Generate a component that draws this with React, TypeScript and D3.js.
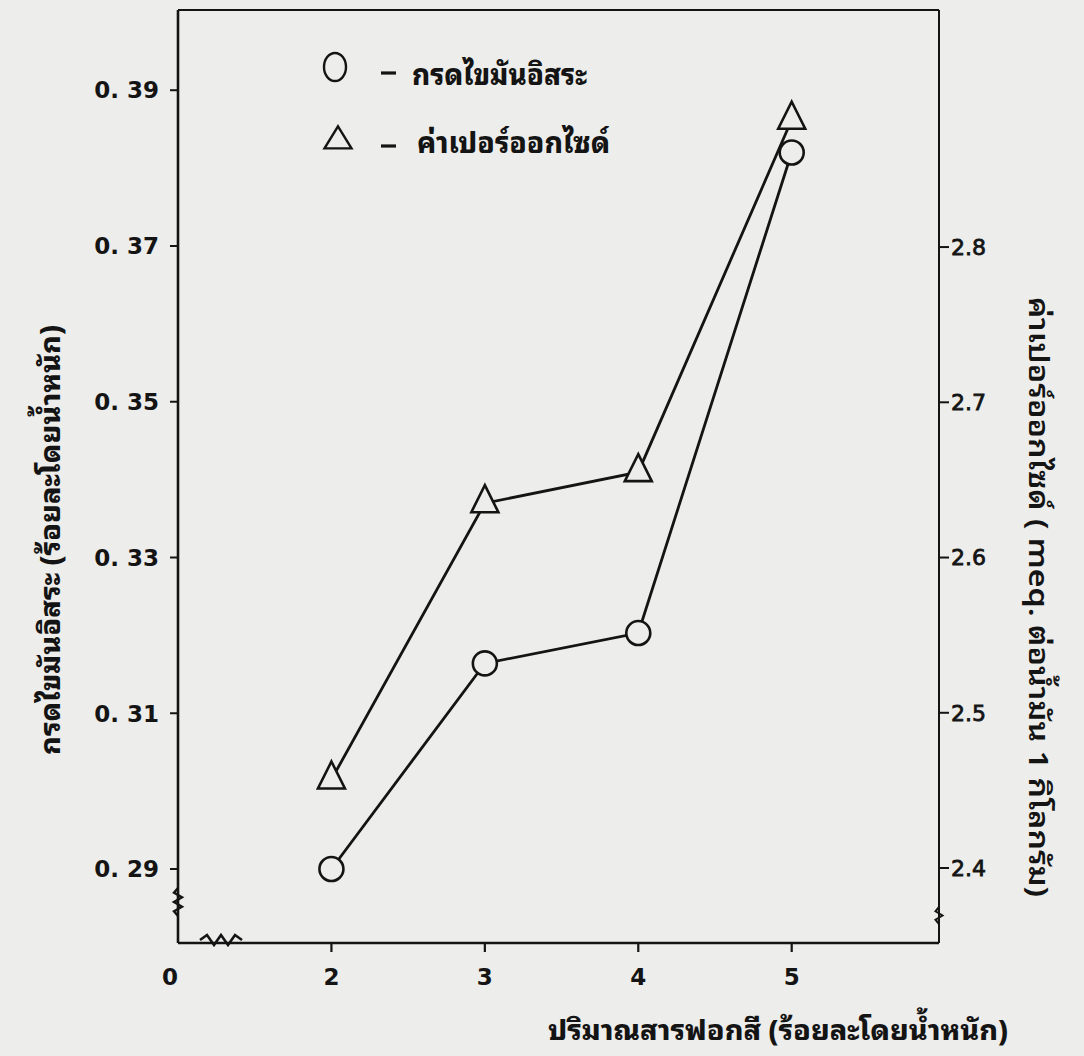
import React from 'react';
import * as d3 from 'd3';

// Bleaching-earth dosage (% by weight) and the two measured responses
const bleachLevels = [2, 3, 4, 5];
const freeFattyAcid = [0.29, 0.3164, 0.3203, 0.382];
const peroxideValue = [2.457, 2.635, 2.655, 2.882];

const leftTicks = [0.29, 0.31, 0.33, 0.35, 0.37, 0.39];
const rightTicks = [2.4, 2.5, 2.6, 2.7, 2.8];
const xTicks = [2, 3, 4, 5];
const xOriginLabel = '0';

const legendLabels = ['กรดไขมันอิสระ', 'ค่าเปอร์ออกไซด์'];
const leftTitle = 'กรดไขมันอิสระ (ร้อยละโดยน้ำหนัก)';
const rightTitle = 'ค่าเปอร์ออกไซด์ ( meq. ต่อน้ำมัน 1 กิโลกรัม)';
const xTitle = 'ปริมาณสารฟอกสี (ร้อยละโดยน้ำหนัก)';

const W = 1084;
const H = 1056;
const plot = { left: 178, right: 939, top: 10, bottom: 943 };
const paper = '#ededeb';
const ink = '#141414';
const thaiFont = '"Noto Sans Thai Looped", "Noto Sans Thai", "Noto Sans", "DejaVu Sans", sans-serif';
const numFont = '"DejaVu Sans", "Noto Sans", sans-serif';

const x = d3.scaleLinear().domain([1.0, 5.96]).range([plot.left, plot.right]);
const yL = d3.scaleLinear().domain([0.2805, 0.4003]).range([plot.bottom, plot.top]);
const yR = d3.scaleLinear().domain([2.3517, 2.9527]).range([plot.bottom, plot.top]);

const ffaPts: [number, number][] = bleachLevels.map((b, i) => [x(b), yL(freeFattyAcid[i])]);
const pvPts: [number, number][] = bleachLevels.map((b, i) => [x(b), yR(peroxideValue[i])]);
const line = d3.line();

// Open triangle marker with its centroid at the origin
function trianglePath(w: number, h: number) {
  const p = d3.path();
  p.moveTo(0, (-2 * h) / 3);
  p.lineTo(w / 2, h / 3);
  p.lineTo(-w / 2, h / 3);
  p.closePath();
  return p.toString();
}

// Small zig-zag drawn across an axis line to mark a break in the scale
function zigzag(x0: number, y0: number, len: number, amp: number, n: number, vertical: boolean) {
  const pts: [number, number][] = [];
  const steps = n * 2;
  for (let i = 0; i <= steps; i++) {
    const t = (i / steps) * len;
    const o = i === 0 || i === steps ? 0 : i % 2 ? -amp : amp;
    pts.push(vertical ? [x0 + o, y0 + t] : [x0 + t, y0 + o]);
  }
  return d3.line()(pts) || '';
}

export default function App() {
  const fmtLeft = (v: number) => v.toFixed(2).replace('.', '. ');
  return (
    <svg
      width={W}
      height={H}
      viewBox={`0 0 ${W} ${H}`}
      style={{ position: 'absolute', left: 0, top: 0, background: paper }}
    >
      <rect x={0} y={0} width={W} height={H} fill={paper} />

      {/* frame: top border, left and right axes, bottom axis */}
      <line x1={plot.left} x2={plot.right} y1={plot.top} y2={plot.top} stroke={ink} strokeWidth={2.2} />
      <line x1={plot.left} x2={plot.left} y1={plot.top} y2={plot.bottom} stroke={ink} strokeWidth={2.6} />
      <line x1={plot.right} x2={plot.right} y1={plot.top} y2={plot.bottom} stroke={ink} strokeWidth={2} />
      <line x1={plot.left} x2={plot.right} y1={plot.bottom} y2={plot.bottom} stroke={ink} strokeWidth={2.6} />

      {/* axis breaks */}
      <path d={zigzag(plot.left, 888, 28, 4, 3, true)} fill="none" stroke={ink} strokeWidth={2.4} />
      <path d={zigzag(plot.right, 907, 17, 3.5, 2, true)} fill="none" stroke={ink} strokeWidth={2} />
      <path d={zigzag(200, plot.bottom - 3, 42, 5, 3, false)} fill="none" stroke={ink} strokeWidth={2.6} />

      {/* left axis */}
      {leftTicks.map((t) => (
        <g key={t} transform={`translate(${plot.left},${yL(t)})`}>
          <line x1={-8} x2={0} stroke={ink} strokeWidth={2} />
          <text x={-19} dy="0.36em" textAnchor="end" fontFamily={numFont} fontWeight={700} fontSize={23} fill={ink}>
            {fmtLeft(t)}
          </text>
        </g>
      ))}

      {/* right axis */}
      {rightTicks.map((t) => (
        <g key={t} transform={`translate(${plot.right},${yR(t)})`}>
          <line x1={0} x2={10} stroke={ink} strokeWidth={2} />
          <text
            x={12}
            dy="0.36em"
            textAnchor="start"
            fontFamily={numFont}
            fontWeight={400}
            fontSize={22}
            fill={ink}
            stroke={ink}
            strokeWidth={0.8}
          >
            {t.toFixed(1)}
          </text>
        </g>
      ))}

      {/* bottom axis */}
      {xTicks.map((t) => (
        <g key={t} transform={`translate(${x(t)},${plot.bottom})`}>
          <line y1={0} y2={9} stroke={ink} strokeWidth={2.2} />
          <text y={34} dy="0.36em" textAnchor="middle" fontFamily={numFont} fontWeight={700} fontSize={23} fill={ink}>
            {t}
          </text>
        </g>
      ))}
      <text x={plot.left - 8} y={plot.bottom + 34} dy="0.36em" textAnchor="middle" fontFamily={numFont} fontWeight={700} fontSize={23} fill={ink}>
        {xOriginLabel}
      </text>

      {/* axis titles */}
      <text
        transform="translate(47,540) rotate(-90)"
        textAnchor="middle"
        dominantBaseline="central"
        fontFamily={thaiFont}
        fontWeight={800}
        fontSize={28}
        textLength={430}
        lengthAdjust="spacingAndGlyphs"
        fill={ink}
      >
        {leftTitle}
      </text>
      <text
        transform="translate(1041,597) rotate(90)"
        textAnchor="middle"
        dominantBaseline="central"
        fontFamily={thaiFont}
        fontWeight={600}
        fontSize={27}
        textLength={600}
        lengthAdjust="spacingAndGlyphs"
        fill={ink}
      >
        {rightTitle}
      </text>
      <text
        x={548}
        y={1027}
        textAnchor="start"
        dominantBaseline="central"
        fontFamily={thaiFont}
        fontWeight={800}
        fontSize={28}
        textLength={460}
        lengthAdjust="spacingAndGlyphs"
        fill={ink}
      >
        {xTitle}
      </text>

      {/* legend */}
      <ellipse cx={335} cy={67} rx={11} ry={14} fill="none" stroke={ink} strokeWidth={2.4} />
      <line x1={381} x2={396} y1={73} y2={73} stroke={ink} strokeWidth={3.2} />
      <text
        x={412}
        y={72}
        dominantBaseline="central"
        fontFamily={thaiFont}
        fontWeight={800}
        fontSize={29}
        textLength={175}
        lengthAdjust="spacingAndGlyphs"
        fill={ink}
      >
        {legendLabels[0]}
      </text>
      <path d={trianglePath(27, 22)} transform="translate(338,141)" fill="none" stroke={ink} strokeWidth={2.4} />
      <line x1={381} x2={396} y1={146} y2={146} stroke={ink} strokeWidth={3.2} />
      <text
        x={417}
        y={140}
        dominantBaseline="central"
        fontFamily={thaiFont}
        fontWeight={800}
        fontSize={29}
        textLength={193}
        lengthAdjust="spacingAndGlyphs"
        fill={ink}
      >
        {legendLabels[1]}
      </text>

      {/* series lines */}
      <path d={line(pvPts) || ''} fill="none" stroke={ink} strokeWidth={2.8} />
      <path d={line(ffaPts) || ''} fill="none" stroke={ink} strokeWidth={2.8} />

      {/* markers */}
      {pvPts.map(([px, py], i) => (
        <path key={`pv${i}`} d={trianglePath(27, 27)} transform={`translate(${px},${py})`} fill={paper} stroke={ink} strokeWidth={2.6} />
      ))}
      {ffaPts.map(([px, py], i) => (
        <circle key={`ffa${i}`} cx={px} cy={py} r={12} fill={paper} stroke={ink} strokeWidth={2.6} />
      ))}
    </svg>
  );
}
